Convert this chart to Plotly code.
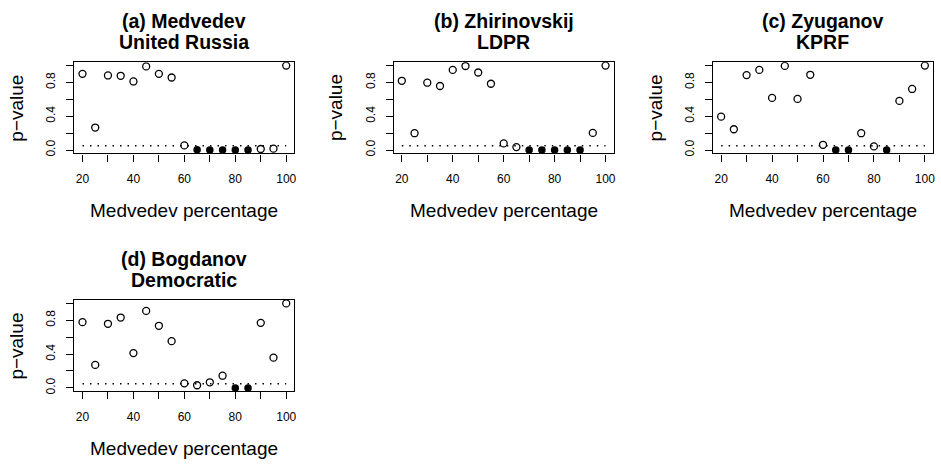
import plotly.graph_objects as go

W, H = 941, 464

# ---------------- data ----------------
medvedev_pct = [20, 25, 30, 35, 40, 45, 50, 55, 60, 65, 70, 75, 80, 85, 90, 95, 100]

title_line1 = ["(a) Medvedev", "(b) Zhirinovskij", "(c) Zyuganov", "(d) Bogdanov"]
title_line2 = ["United Russia", "LDPR", "KPRF", "Democratic"]

pval_medvedev = [0.902, 0.266, 0.883, 0.879, 0.812, 0.990, 0.902, 0.859, 0.055,
                 0.004, 0.0, 0.0, 0.0, 0.0, 0.012, 0.016, 1.0]
sig_medvedev = [0, 0, 0, 0, 0, 0, 0, 0, 0, 1, 1, 1, 1, 1, 0, 0, 0]

pval_zhirinovskij = [0.820, 0.199, 0.797, 0.758, 0.949, 0.995, 0.918, 0.785, 0.078,
                     0.035, 0.0, 0.0, 0.0, 0.0, 0.0, 0.203, 1.0]
sig_zhirinovskij = [0, 0, 0, 0, 0, 0, 0, 0, 0, 0, 1, 1, 1, 1, 1, 0, 0]

pval_zyuganov = [0.395, 0.246, 0.887, 0.949, 0.617, 0.996, 0.605, 0.891, 0.062,
                 0.0, 0.0, 0.199, 0.043, 0.0, 0.582, 0.723, 1.0]
sig_zyuganov = [0, 0, 0, 0, 0, 0, 0, 0, 0, 1, 1, 0, 0, 1, 0, 0, 0]

pval_bogdanov = [0.778, 0.272, 0.759, 0.833, 0.412, 0.911, 0.735, 0.553, 0.054,
                 0.031, 0.066, 0.144, 0.0, 0.0, 0.770, 0.358, 1.0]
sig_bogdanov = [0, 0, 0, 0, 0, 0, 0, 0, 0, 0, 0, 0, 1, 1, 0, 0, 0]

ALPHA = 0.05

x_tick_vals = [20, 30, 40, 50, 60, 70, 80, 90, 100]
x_tick_text = ["20", "", "40", "", "60", "", "80", "", "100"]
y_tick_vals = [0.0, 0.2, 0.4, 0.6, 0.8, 1.0]
y_tick_text = ["0.0", "", "0.4", "", "0.8", ""]

x_label = "Medvedev percentage"
y_label = "p\u2212value"

pvals = [pval_medvedev, pval_zhirinovskij, pval_zyuganov, pval_bogdanov]
sigs = [sig_medvedev, sig_zhirinovskij, sig_zyuganov, sig_bogdanov]

# ---------------- layout geometry (pixels) ----------------
boxes = [(74.5, 62.6), (394.5, 62.6), (714.5, 62.6), (74.5, 302.0)]
BOX_W, BOX_H = 220.5, 91.8
FONT = "Liberation Sans, Arial, Helvetica, sans-serif"

fig = go.Figure()
annotations = []
shapes = []
layout = {}

for i, (left, top) in enumerate(boxes):
    n = "" if i == 0 else str(i + 1)
    xa, ya = "x" + n, "y" + n
    xs = medvedev_pct
    ys = pvals[i]
    sg = sigs[i]
    ox = [x for x, s in zip(xs, sg) if not s]
    oy = [y for y, s in zip(ys, sg) if not s]
    fx = [x for x, s in zip(xs, sg) if s]
    fy = [y for y, s in zip(ys, sg) if s]
    fig.add_trace(go.Scatter(x=ox, y=oy, mode="markers", xaxis=xa, yaxis=ya,
                             marker=dict(symbol="circle-open", size=7, color="black",
                                         line=dict(width=1.3, color="black")),
                             showlegend=False, hoverinfo="x+y"))
    fig.add_trace(go.Scatter(x=fx, y=fy, mode="markers", xaxis=xa, yaxis=ya,
                             marker=dict(symbol="circle", size=7.5, color="black",
                                         line=dict(width=0)),
                             showlegend=False, hoverinfo="x+y"))
    shapes.append(dict(type="line", xref=xa, yref=ya, x0=min(xs), x1=max(xs),
                       y0=ALPHA, y1=ALPHA,
                       line=dict(color="black", width=1.5, dash="1.5px,6px")))

    axis_common = dict(showline=True, linecolor="black", linewidth=1.2, mirror=True,
                       ticks="outside", ticklen=7, tickwidth=1.2, tickcolor="black",
                       showgrid=False, zeroline=False, fixedrange=True,
                       tickfont=dict(family=FONT, size=12, color="black"))
    layout["xaxis" + n] = dict(axis_common, anchor=ya,
                               domain=[left / W, (left + BOX_W) / W],
                               range=[16.8, 103.2], tickmode="array",
                               tickvals=x_tick_vals, ticktext=x_tick_text,
                               ticklabelstandoff=7)
    layout["yaxis" + n] = dict(axis_common, anchor=xa,
                               domain=[1 - (top + BOX_H) / H, 1 - top / H],
                               range=[-0.04, 1.04], tickmode="array",
                               tickvals=y_tick_vals, ticktext=y_tick_text,
                               tickangle=-90, ticklabelstandoff=6)

    cx = (left + BOX_W / 2) / W
    annotations.append(dict(text="<b>%s</b>" % title_line1[i], x=cx, y=1 - (top - 41) / H,
                            xref="paper", yref="paper", showarrow=False,
                            xanchor="center", yanchor="middle",
                            font=dict(family=FONT, size=19.5, color="black")))
    annotations.append(dict(text="<b>%s</b>" % title_line2[i], x=cx, y=1 - (top - 20) / H,
                            xref="paper", yref="paper", showarrow=False,
                            xanchor="center", yanchor="middle",
                            font=dict(family=FONT, size=19.5, color="black")))
    annotations.append(dict(text=x_label, x=cx, y=1 - (top + 149) / H,
                            xref="paper", yref="paper", showarrow=False,
                            xanchor="center", yanchor="middle",
                            font=dict(family=FONT, size=19, color="black")))
    annotations.append(dict(text=y_label, x=(left - 57.5) / W,
                            y=1 - (top + BOX_H / 2) / H,
                            xref="paper", yref="paper", showarrow=False, textangle=-90,
                            xanchor="center", yanchor="middle",
                            font=dict(family=FONT, size=19, color="black")))

fig.update_layout(width=W, height=H, margin=dict(l=0, r=0, t=0, b=0),
                  paper_bgcolor="white", plot_bgcolor="white",
                  font=dict(family=FONT, color="black"),
                  annotations=annotations, shapes=shapes, showlegend=False,
                  **layout)

fig.write_html("out.html", config={"displayModeBar": False},
               post_script="document.body.style.margin='0';document.body.style.overflow='hidden';")
